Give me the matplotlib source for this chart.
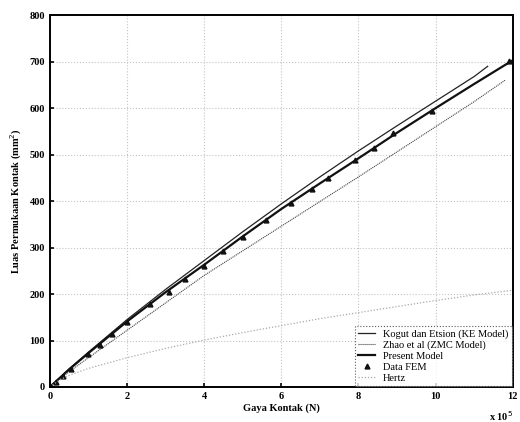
import numpy as np
import matplotlib
matplotlib.use("Agg")
import matplotlib.pyplot as plt

plt.rcParams['font.family'] = ['Liberation Serif', 'DejaVu Serif']

# gaya kontak (x 10^5 N)
x_ke = [0, 0.5, 1, 2, 3, 4, 5, 6, 7, 8, 9, 10, 11, 11.35]
y_ke = [0, 39, 75, 145, 210, 272, 334, 394, 452, 508, 562, 615, 668, 690]

x_zmc = [0, 0.5, 1, 2, 3, 4, 5, 6, 7, 8, 9, 10, 11, 11.8]
y_zmc = [0, 33, 63, 122, 181, 240, 293, 346, 399, 452, 506, 560, 614, 660]

x_pm = [0, 0.5, 1, 2, 3, 4, 5, 6, 7, 8, 9, 10, 11, 12]
y_pm = [0, 38, 73, 141, 204, 263, 324, 383, 438, 492, 547, 600, 652, 703]

x_fem = [0.15, 0.33, 0.55, 1.0, 1.3, 1.6, 2.0, 2.6, 3.1, 3.5, 4.0, 4.5, 5.0,
         5.6, 6.25, 6.8, 7.2, 7.9, 8.4, 8.9, 9.9, 11.9]
y_fem = [10, 24, 39, 72, 91, 113, 140, 178, 205, 232, 260, 293, 323,
         360, 395, 425, 449, 488, 515, 546, 594, 702]

x_hz = [0, 0.25, 0.5, 1, 2, 3, 4, 5, 6, 7, 8, 9, 10, 11, 12]
y_hz = [0, 15, 25, 40, 63, 83, 101, 117, 132, 147, 160, 173, 186, 198, 208]

fig = plt.figure(figsize=(5.2, 4.22), dpi=100)
ax = fig.add_axes([0.096, 0.083, 0.890, 0.881])

ax.plot(x_ke, y_ke, color="#222222", lw=0.9, label="Kogut dan Etsion (KE Model)")
ax.plot(x_zmc, y_zmc, color="#444444", lw=0.8, ls=(0, (1, 0.8)), label="Zhao et al (ZMC Model)")
ax.plot(x_pm, y_pm, color="#111111", lw=1.6, label="Present Model")
ax.plot(x_fem, y_fem, ls="none", marker="^", ms=3.5, color="#111111", label="Data FEM")
ax.plot(x_hz, y_hz, color="#aaaaaa", lw=0.9, ls=(0, (1, 1.5)), label="Hertz")

ax.set_xlim(0, 12)
ax.set_ylim(0, 800)
ax.set_xticks([0, 2, 4, 6, 8, 10, 12])
ax.set_yticks(range(0, 801, 100))
ax.grid(True, ls=":", color="#c4c4c4", lw=0.8)
ax.tick_params(labelsize=7.5, length=3, width=1.2, direction="in")
for lab in ax.get_xticklabels() + ax.get_yticklabels():
    lab.set_fontweight("bold")
for s in ax.spines.values():
    s.set_linewidth(1.4)

ax.set_xlabel("Gaya Kontak (N)", fontsize=7.5, fontweight="bold", labelpad=2)
ax.set_ylabel("Luas Permukaan Kontak (mm$^2$)", fontsize=7.5, fontweight="bold", labelpad=4)
ax.text(1.0, -0.06, "x 10$^5$", transform=ax.transAxes, ha="right", va="top",
        fontsize=7.5, fontweight="bold")

leg = ax.legend(loc="lower right", fontsize=7.5, frameon=True, fancybox=False,
                borderpad=0.3, labelspacing=0.15, handlelength=1.6,
                borderaxespad=0.1)
leg.get_frame().set_edgecolor("#333333")
leg.get_frame().set_linestyle(":")
leg.get_frame().set_linewidth(0.8)

fig.savefig("out.png", dpi=100)
